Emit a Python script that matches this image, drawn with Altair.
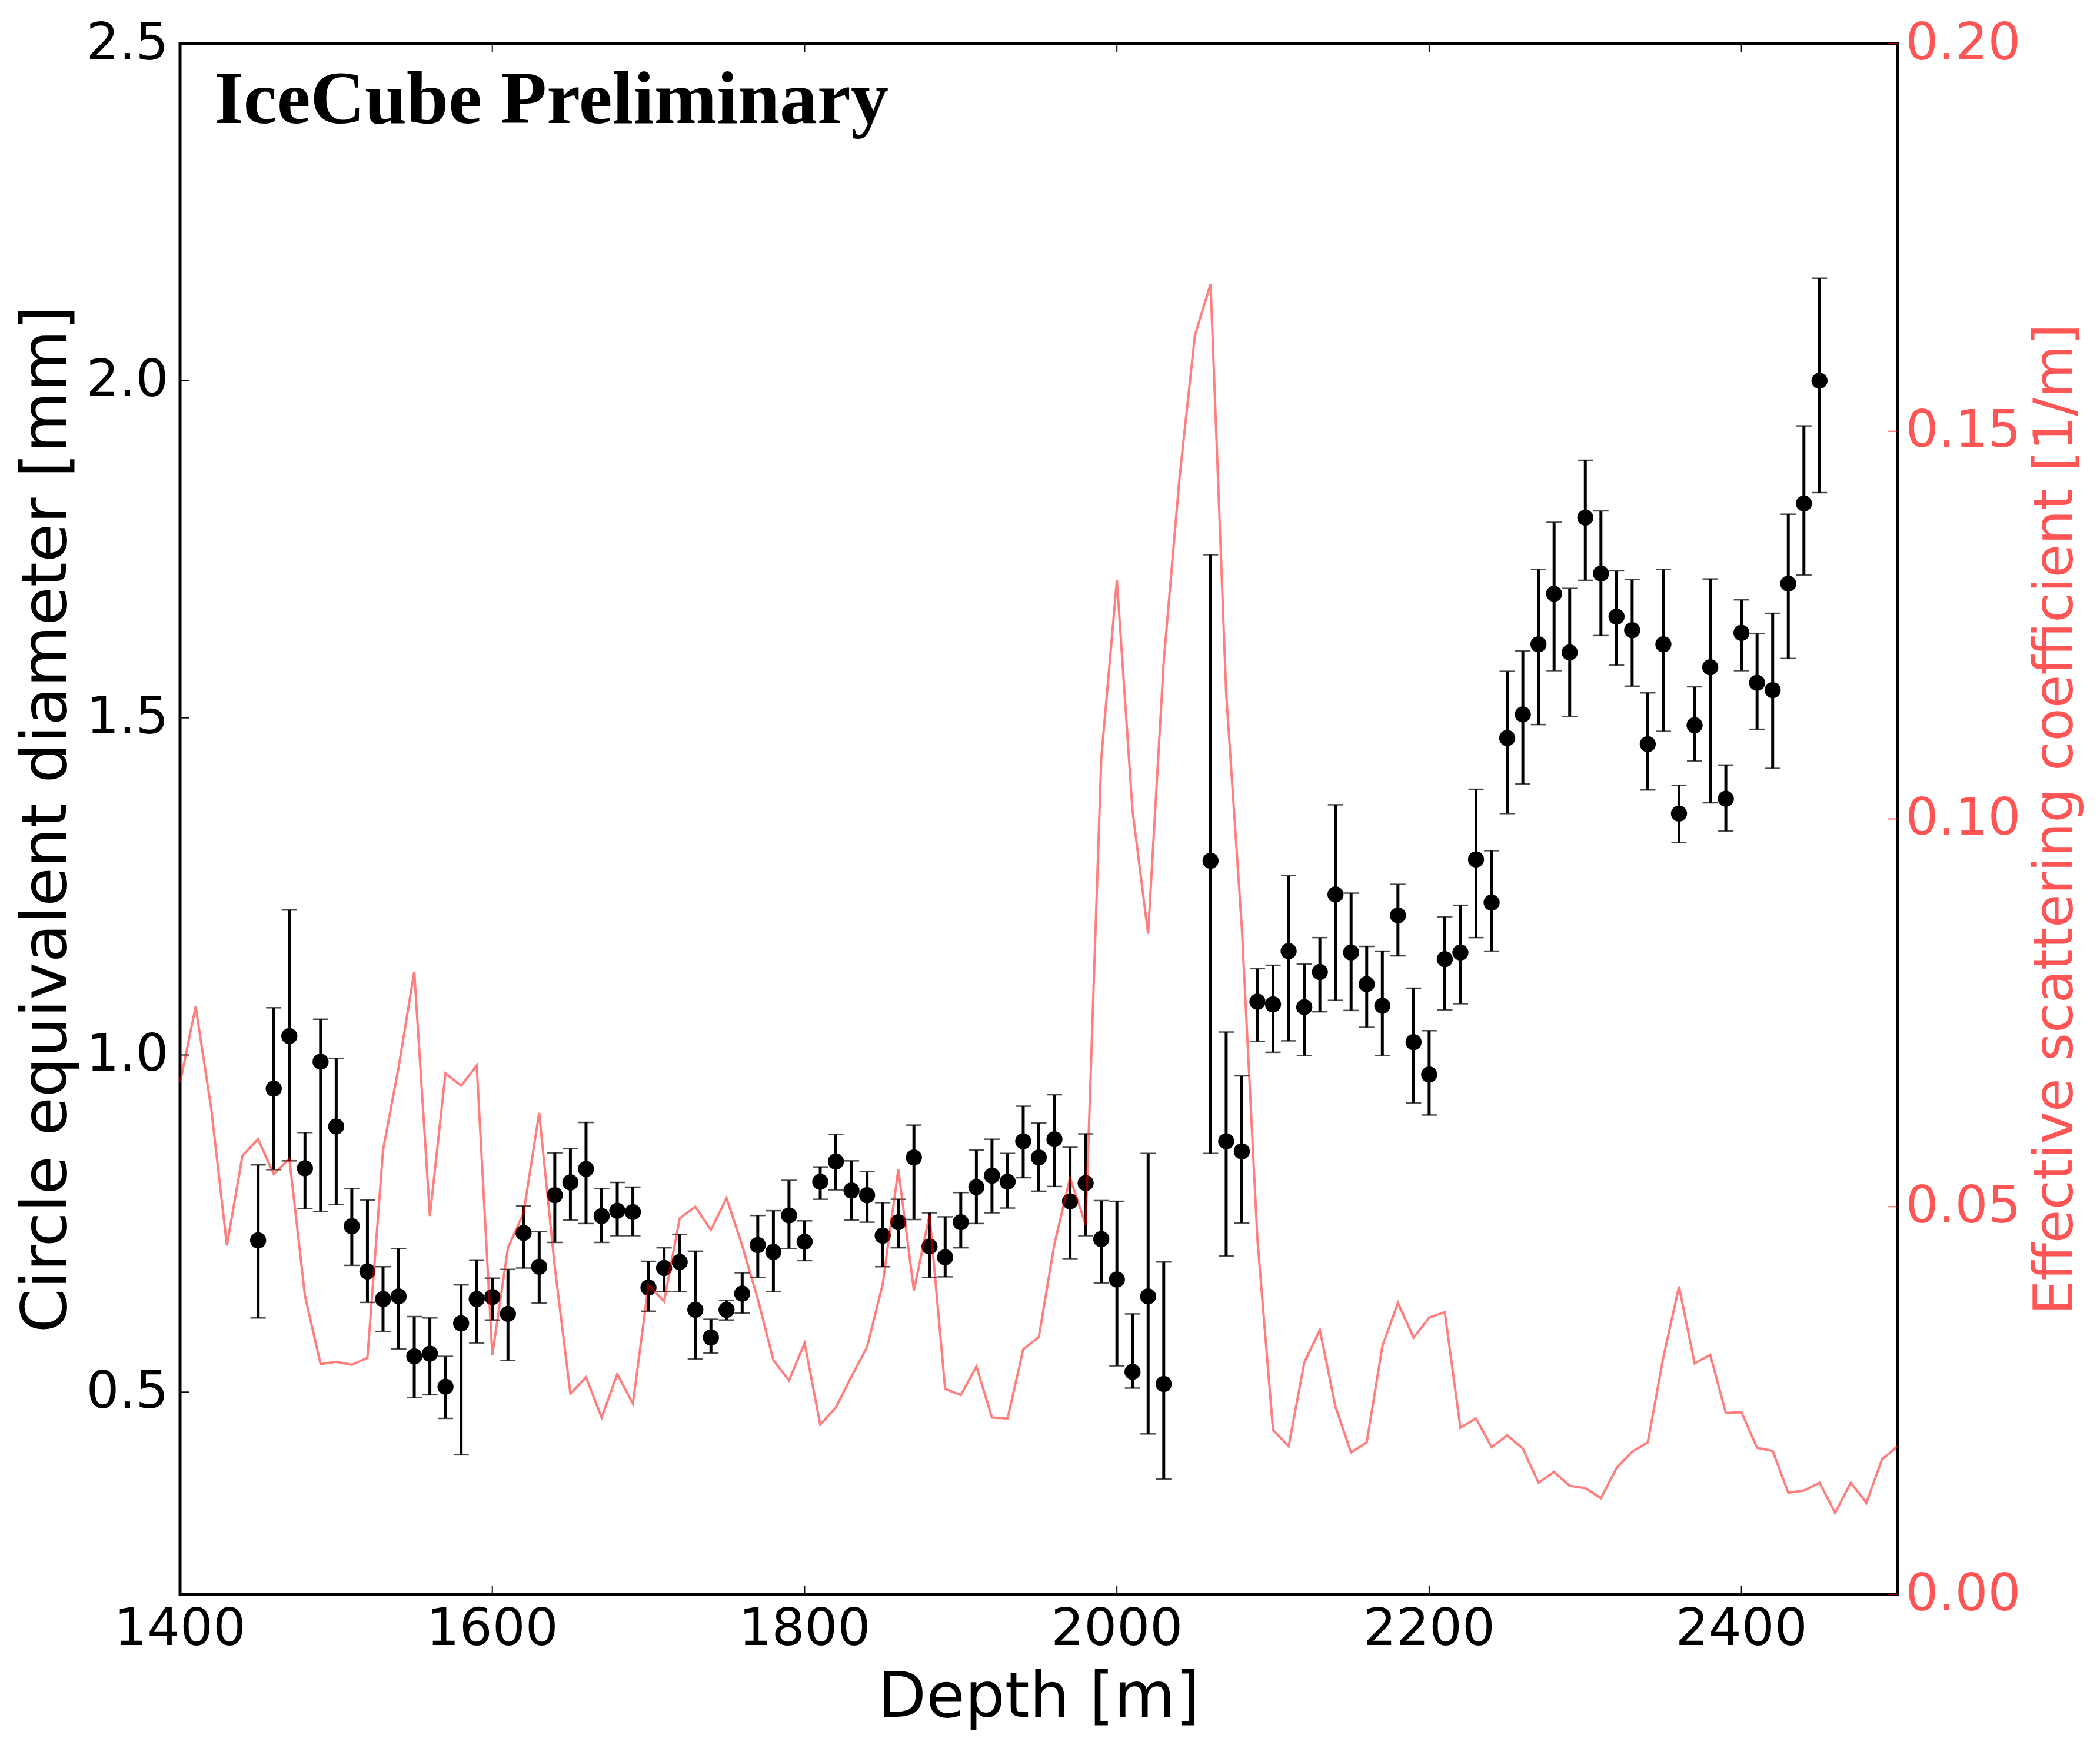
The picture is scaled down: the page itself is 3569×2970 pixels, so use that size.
import altair as alt
import pandas as pd

# ---- grain size data (circle equivalent diameter, mm) ----
depth = [1450, 1460, 1470, 1480, 1490, 1500, 1510, 1520, 1530, 1540,
         1550, 1560, 1570, 1580, 1590, 1600, 1610, 1620, 1630, 1640,
         1650, 1660, 1670, 1680, 1690, 1700, 1710, 1720, 1730, 1740,
         1750, 1760, 1770, 1780, 1790, 1800, 1810, 1820, 1830, 1840,
         1850, 1860, 1870, 1880, 1890, 1900, 1910, 1920, 1930, 1940,
         1950, 1960, 1970, 1980, 1990, 2000, 2010, 2020, 2030, 2060,
         2070, 2080, 2090, 2100, 2110, 2120, 2130, 2140, 2150, 2160,
         2170, 2180, 2190, 2200, 2210, 2220, 2230, 2240, 2250, 2260,
         2270, 2280, 2290, 2300, 2310, 2320, 2330, 2340, 2350, 2360,
         2370, 2380, 2390, 2400, 2410, 2420, 2430, 2440, 2450]
diam = [0.725, 0.950, 1.028, 0.832, 0.990, 0.894, 0.746, 0.679, 0.638, 0.642,
        0.553, 0.557, 0.508, 0.602, 0.638, 0.641, 0.616, 0.736, 0.686, 0.792,
        0.811, 0.831, 0.761, 0.769, 0.767, 0.655, 0.684, 0.693, 0.622, 0.581,
        0.622, 0.646, 0.718, 0.708, 0.762, 0.723, 0.812, 0.842, 0.799, 0.792,
        0.732, 0.752, 0.848, 0.716, 0.700, 0.752, 0.804, 0.821, 0.812, 0.872,
        0.848, 0.875, 0.783, 0.810, 0.727, 0.667, 0.530, 0.642, 0.512, 1.288,
        0.872, 0.857, 1.079, 1.075, 1.154, 1.071, 1.123, 1.238, 1.152, 1.105,
        1.073, 1.207, 1.019, 0.971, 1.142, 1.152, 1.290, 1.226, 1.470, 1.505,
        1.609, 1.684, 1.597, 1.797, 1.714, 1.650, 1.630, 1.461, 1.609, 1.358,
        1.489, 1.575, 1.380, 1.626, 1.552, 1.541, 1.699, 1.818, 2.000]
diam_lo = [0.610, 0.830, 0.843, 0.772, 0.768, 0.778, 0.688, 0.633, 0.590, 0.564,
           0.492, 0.496, 0.461, 0.407, 0.573, 0.607, 0.547, 0.684, 0.632, 0.722,
           0.755, 0.750, 0.722, 0.732, 0.732, 0.620, 0.649, 0.649, 0.549, 0.558,
           0.607, 0.617, 0.670, 0.649, 0.713, 0.695, 0.786, 0.800, 0.755, 0.752,
           0.686, 0.714, 0.756, 0.670, 0.671, 0.714, 0.750, 0.766, 0.773, 0.818,
           0.798, 0.805, 0.698, 0.732, 0.662, 0.539, 0.506, 0.438, 0.371, 0.854,
           0.702, 0.751, 1.020, 1.004, 1.021, 0.999, 1.064, 1.081, 1.066, 1.041,
           0.999, 1.147, 0.929, 0.911, 1.067, 1.076, 1.174, 1.154, 1.358, 1.402,
           1.490, 1.570, 1.502, 1.704, 1.622, 1.578, 1.547, 1.393, 1.480, 1.315,
           1.436, 1.374, 1.332, 1.570, 1.483, 1.425, 1.588, 1.712, 1.834]
diam_hi = [0.837, 1.070, 1.215, 0.885, 1.053, 0.995, 0.802, 0.785, 0.686, 0.713,
           0.612, 0.610, 0.553, 0.659, 0.696, 0.669, 0.682, 0.776, 0.738, 0.855,
           0.861, 0.900, 0.802, 0.811, 0.804, 0.694, 0.714, 0.734, 0.709, 0.608,
           0.636, 0.677, 0.762, 0.769, 0.814, 0.754, 0.834, 0.882, 0.843, 0.827,
           0.781, 0.786, 0.896, 0.766, 0.760, 0.796, 0.859, 0.875, 0.854, 0.924,
           0.899, 0.941, 0.863, 0.883, 0.784, 0.783, 0.616, 0.854, 0.693, 1.742,
           1.034, 0.969, 1.128, 1.133, 1.266, 1.135, 1.174, 1.371, 1.240, 1.161,
           1.154, 1.253, 1.099, 1.036, 1.205, 1.222, 1.394, 1.303, 1.569, 1.599,
           1.720, 1.790, 1.692, 1.882, 1.807, 1.718, 1.705, 1.537, 1.720, 1.400,
           1.546, 1.706, 1.430, 1.675, 1.625, 1.655, 1.802, 1.933, 2.152]

# ---- effective scattering coefficient (1/m) ----
scat_depth = [1400, 1410, 1420, 1430, 1440, 1450, 1460, 1470, 1480, 1490,
              1500, 1510, 1520, 1530, 1540, 1550, 1560, 1570, 1580, 1590,
              1600, 1610, 1620, 1630, 1640, 1650, 1660, 1670, 1680, 1690,
              1700, 1710, 1720, 1730, 1740, 1750, 1760, 1770, 1780, 1790,
              1800, 1810, 1820, 1830, 1840, 1850, 1860, 1870, 1880, 1890,
              1900, 1910, 1920, 1930, 1940, 1950, 1960, 1970, 1980, 1990,
              2000, 2010, 2020, 2030, 2040, 2050, 2060, 2070, 2080, 2090,
              2100, 2110, 2120, 2130, 2140, 2150, 2160, 2170, 2180, 2190,
              2200, 2210, 2220, 2230, 2240, 2250, 2260, 2270, 2280, 2290,
              2300, 2310, 2320, 2330, 2340, 2350, 2360, 2370, 2380, 2390,
              2400, 2410, 2420, 2430, 2440, 2450, 2460, 2470, 2480, 2490, 2500]
scat = [0.0660, 0.0758, 0.0626, 0.0450, 0.0566, 0.0587, 0.0542, 0.0562, 0.0385, 0.0297,
        0.0300, 0.0296, 0.0305, 0.0573, 0.0680, 0.0803, 0.0488, 0.0672, 0.0656, 0.0682,
        0.0309, 0.0447, 0.0492, 0.0621, 0.0422, 0.0259, 0.0280, 0.0228, 0.0284, 0.0246,
        0.0399, 0.0378, 0.0485, 0.0500, 0.0470, 0.0511, 0.0450, 0.0381, 0.0302, 0.0276,
        0.0324, 0.0219, 0.0241, 0.0281, 0.0319, 0.0400, 0.0548, 0.0392, 0.0489, 0.0265,
        0.0257, 0.0294, 0.0228, 0.0227, 0.0316, 0.0332, 0.0452, 0.0537, 0.0477, 0.1078,
        0.1308, 0.1011, 0.0852, 0.1203, 0.1438, 0.1624, 0.1690, 0.1162, 0.0860, 0.0458,
        0.0212, 0.0191, 0.0299, 0.0341, 0.0242, 0.0183, 0.0196, 0.0320, 0.0376, 0.0331,
        0.0357, 0.0364, 0.0215, 0.0227, 0.0190, 0.0205, 0.0188, 0.0144, 0.0158, 0.0140,
        0.0137, 0.0124, 0.0163, 0.0184, 0.0196, 0.0306, 0.0397, 0.0298, 0.0309, 0.0234,
        0.0235, 0.0189, 0.0185, 0.0131, 0.0134, 0.0144, 0.0105, 0.0144, 0.0118, 0.0174, 0.0191]

x_ticks = [1400, 1600, 1800, 2000, 2200, 2400]
x_tick_labels = ["1400", "1600", "1800", "2000", "2200", "2400"]
yl_ticks = [0.5, 1.0, 1.5, 2.0, 2.5]
yr_ticks = [0.0, 0.05, 0.10, 0.15, 0.20]

title_text = "IceCube Preliminary"
x_title = "Depth [m]"
yl_title = "Circle equivalent diameter [mm]"
yr_title = "Effective scattering coefficient [1/m]"

W, H = 2919, 2635
RED_TXT = "#ff5555"
FONT = "DejaVu Sans"

pts = pd.DataFrame({"depth": depth, "d": diam, "lo": diam_lo, "hi": diam_hi})
sc = pd.DataFrame({"depth": scat_depth, "s": scat})
xt = pd.DataFrame({"v": x_ticks, "lab": x_tick_labels})
ylt = pd.DataFrame({"v": yl_ticks})
yrt = pd.DataFrame({"v": yr_ticks})

xs = alt.Scale(domain=[1400, 2500], nice=False, zero=False)
yls = alt.Scale(domain=[0.2, 2.5], nice=False, zero=False)
yrs = alt.Scale(domain=[0, 0.2], nice=False, zero=False)

yl_axis = alt.Axis(orient="left", values=yl_ticks, format=".1f", labelFont=FONT,
                   labelFontSize=88, labelLimit=0, labelColor="black", labelPadding=20,
                   ticks=False, domain=False, grid=False, labelFlush=False,
                   labelOverlap=False, title=yl_title, titleFont=FONT,
                   titleFontSize=107, titleFontWeight="normal", titleColor="black",
                   titleAngle=270, titleBaseline="alphabetic", titleAlign="center",
                   titleX=-195, titleY=H / 2)
yr_axis = alt.Axis(orient="right", values=yr_ticks, format=".2f", labelFont=FONT,
                   labelFontSize=88, labelLimit=0, labelColor=RED_TXT, labelPadding=13,
                   ticks=False, domain=False, grid=False, labelFlush=False,
                   labelOverlap=False, title=yr_title, titleFont=FONT,
                   titleFontSize=92, titleFontWeight="normal", titleColor=RED_TXT,
                   titleAngle=270, titleBaseline="alphabetic", titleAlign="center",
                   titleX=296, titleY=H / 2)

X = alt.X("depth:Q", scale=xs, axis=None)

base = alt.Chart(pts)
bars = base.mark_rule(color="black", strokeWidth=5).encode(
    x=X, y=alt.Y("lo:Q", scale=yls, axis=None), y2="hi:Q")
cap_lo = base.mark_tick(color="black", orient="horizontal", size=26, thickness=2.5).encode(
    x=X, y=alt.Y("lo:Q", scale=yls, axis=None))
cap_hi = base.mark_tick(color="black", orient="horizontal", size=26, thickness=2.5).encode(
    x=X, y=alt.Y("hi:Q", scale=yls, axis=None))
dots = base.mark_circle(color="black", opacity=1, size=750).encode(
    x=X, y=alt.Y("d:Q", scale=yls, axis=yl_axis))

XT = alt.X("v:Q", scale=xs, axis=None)
xt_bot = alt.Chart(xt).mark_rule(color="black", strokeWidth=2).encode(
    x=XT, y=alt.value(H), y2=alt.value(H - 15))
xt_top = alt.Chart(xt).mark_rule(color="black", strokeWidth=2).encode(
    x=XT, y=alt.value(0), y2=alt.value(15))
xt_lab = alt.Chart(xt).mark_text(font=FONT, fontSize=88, color="black",
                                 align="center", baseline="alphabetic").encode(
    x=XT, y=alt.value(H + 86), text="lab:N")
x_title_mark = alt.Chart(pd.DataFrame({"t": [x_title]})).mark_text(
    font=FONT, fontSize=107, color="black", align="center", baseline="alphabetic").encode(
    x=alt.value(W / 2), y=alt.value(H + 208), text="t:N")
yl_tk = alt.Chart(ylt).mark_rule(color="black", strokeWidth=2).encode(
    y=alt.Y("v:Q", scale=yls, axis=None), x=alt.value(0), x2=alt.value(15))

title_mark = alt.Chart(pd.DataFrame({"t": [title_text]})).mark_text(
    align="left", baseline="alphabetic", font="Liberation Serif",
    fontWeight="bold", fontSize=128, color="black").encode(
    x=alt.value(58), y=alt.value(135), text="t:N")

line = alt.Chart(sc).mark_line(color="red", opacity=0.5, strokeWidth=4).encode(
    x=X, y=alt.Y("s:Q", scale=yrs, axis=yr_axis))
yr_tk = alt.Chart(yrt).mark_rule(color="red", opacity=0.65, strokeWidth=2).encode(
    y=alt.Y("v:Q", scale=yrs, axis=None), x=alt.value(W - 17), x2=alt.value(W))

chart = alt.layer(dots, bars, cap_lo, cap_hi, xt_bot, xt_top, xt_lab, x_title_mark,
                  yl_tk, title_mark, line, yr_tk).resolve_scale(y="independent").properties(
    width=W, height=H,
    padding={"left": 298, "top": 66, "right": 336, "bottom": 253},
    autosize=alt.AutoSizeParams(type="none"),
).configure(font=FONT, background="white",
            view=alt.ViewConfig(stroke="black", strokeWidth=5))

chart.save("out.html", embed_options={"renderer": "svg", "actions": False})
